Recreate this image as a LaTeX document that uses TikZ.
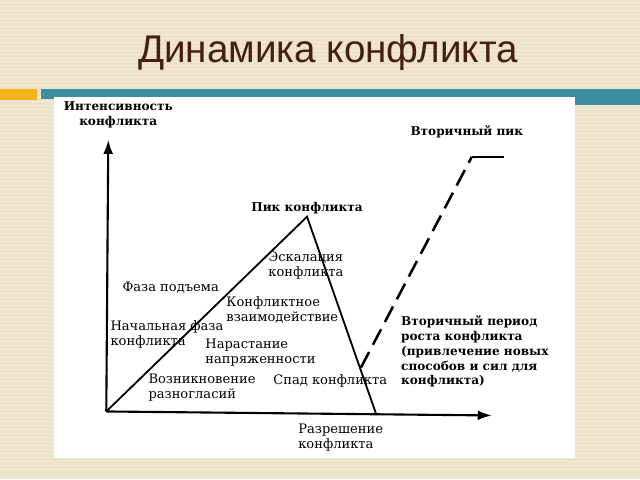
\documentclass[tikz,border=0pt]{standalone}
\usepackage{fontspec}
\setmainfont{DejaVu Serif}
\newfontfamily\titlefont{Liberation Sans}
\usetikzlibrary{arrows.meta}
\definecolor{slidebg}{HTML}{ECE2C9}
\definecolor{slideline}{HTML}{F3EBD8}
\definecolor{barteal}{HTML}{3C8EA2}
\definecolor{barorange}{HTML}{F4B41C}
\definecolor{titlebrown}{HTML}{45200F}
\tikzset{
	lbl/.style={font=\fontsize{9.3}{10.9}\selectfont, align=left, inner sep=0pt, anchor=west},
	blbl/.style={lbl, font=\fontsize{8.6}{10.6}\selectfont\bfseries},
	axis/.style={line width=1.5pt, -{Latex[length=10pt,width=7pt]}}
}

\begin{document}
\begin{tikzpicture}[x=0.025cm,y=-0.025cm]
		% slide
		\fill[slidebg] (0,0) rectangle (640,480);
		\foreach \y in {2,6,...,478}
			\draw[slideline, line width=0.6pt] (0,\y) -- (640,\y);
		\node[font=\titlefont\fontsize{27.5}{30}\selectfont, text=titlebrown, anchor=base] (title) at (328,63) {Динамика конфликта};
		\fill[barorange] (0,89) rectangle (37,100);
		\fill[barteal] (41,89) rectangle (640,99);
		\fill[barteal] (575,99) rectangle (640,105);
		\fill[white] (54,97) rectangle (575,459);
		
		\coordinate (O) at (106,412);
		\coordinate (Y) at (108,140);
		\coordinate (X) at (492,416);
		\coordinate (pk) at (307,217);
		\coordinate (rs) at (376,414);
		\coordinate (s1) at (361,368);
		\coordinate (s2) at (472,157);
		\coordinate (s3) at (504,157);
		
		\begin{scope}[line width=1.3pt]
			\draw[axis] (O) to (Y);
			\draw[axis] (O) to (X);
			\draw (O) to (pk) to (rs);
			\draw[line width=1.8pt, dash pattern=on 12.5pt off 5.8pt] (s1) to (s2);
			\draw[line width=1.8pt] (s2) to (s3);
		\end{scope}
		
		\node[blbl, align=center, anchor=center] (int) at (118,115) {Интенсивность\\конфликта};
		\node[blbl, anchor=center] (pkl) at (307,208) {Пик конфликта};
		\node[blbl, anchor=center] (spk) at (467,132) {Вторичный пик};
		\node[lbl] (esc) at (268,266) {Эскалация\\конфликта};
		\node[lbl] (faza) at (122,288) {Фаза подъема};
		\node[lbl] (vzm) at (226,310) {Конфликтное\\взаимодействие};
		\node[lbl] (nach) at (110,335) {Начальная фаза\\конфликта};
		\node[lbl] (nar) at (205,353) {Нарастание\\напряженности};
		\node[lbl] (voz) at (148,388) {Возникновение\\разногласий};
		\node[lbl] (spad) at (273,381) {Спад конфликта};
		\node[blbl] (vtor) at (401,352) {Вторичный период\\роста конфликта\\(привлечение новых\\способов и сил для\\конфликта)};
		\node[lbl] (razr) at (298,438) {Разрешение\\конфликта};
	\end{tikzpicture}
\end{document}
